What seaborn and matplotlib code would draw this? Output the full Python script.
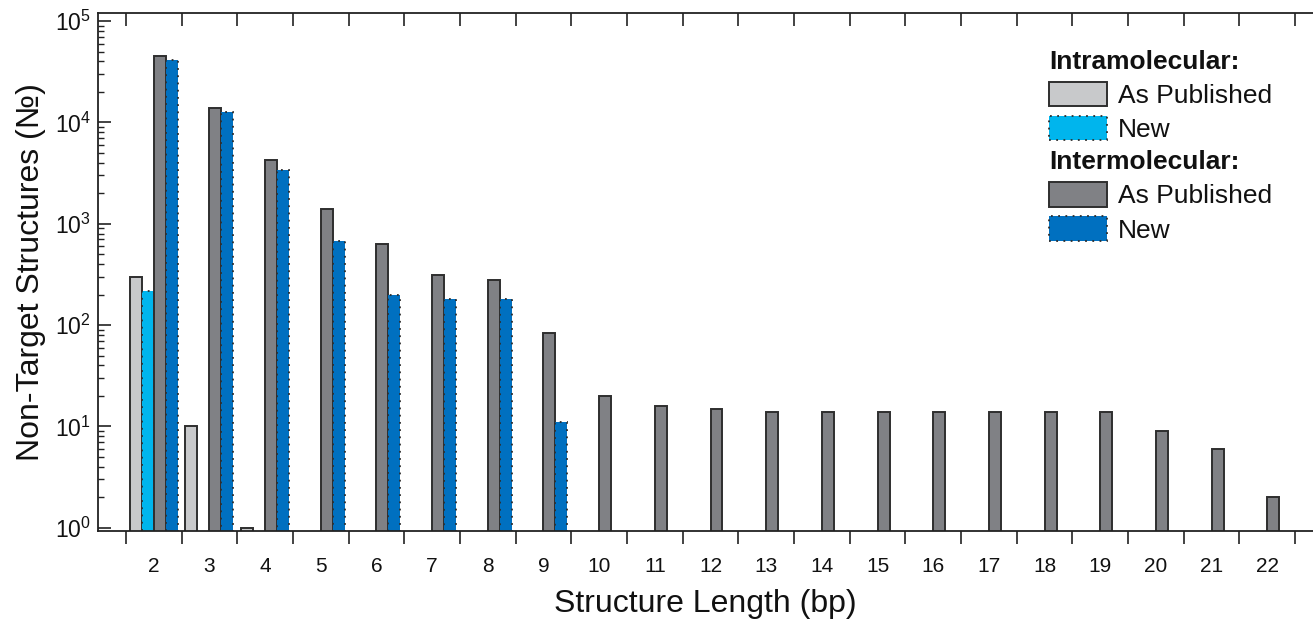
import numpy as np
import pandas as pd
import matplotlib
matplotlib.use("Agg")
import matplotlib.pyplot as plt
from matplotlib.patches import Patch
import seaborn as sns

# ---- data -------------------------------------------------------------
lengths = list(range(2, 23))
intra_published = {2: 300, 3: 10, 4: 1}
intra_new = {2: 215}
inter_published = {2: 45000, 3: 13800, 4: 4300, 5: 1400, 6: 630, 7: 315,
                   8: 280, 9: 84, 10: 20, 11: 16, 12: 15, 13: 14, 14: 14,
                   15: 14, 16: 14, 17: 14, 18: 14, 19: 14, 20: 9, 21: 6,
                   22: 2}
inter_new = {2: 41500, 3: 12700, 4: 3400, 5: 680, 6: 200, 7: 180, 8: 180,
             9: 11}

series_names = ["Intra As Published", "Intra New",
                "Inter As Published", "Inter New"]
series_values = [intra_published, intra_new, inter_published, inter_new]
colors = ["#c8c9cb", "#00b5ed", "#808185", "#0070c0"]
edge_dark = "#2e2e2e"

rows = []
for name, vals in zip(series_names, series_values):
    for k, v in vals.items():
        rows.append({"length": str(k), "count": v, "series": name})
df = pd.DataFrame(rows)

# ---- figure -----------------------------------------------------------
sns.set_theme(style="white")
plt.rcParams["font.family"] = ["Liberation Sans", "DejaVu Sans"]
plt.rcParams["mathtext.fontset"] = "custom"
plt.rcParams["mathtext.rm"] = "Liberation Sans"
plt.rcParams["mathtext.it"] = "Liberation Sans:italic"
plt.rcParams["mathtext.bf"] = "Liberation Sans:bold"
plt.rcParams["text.color"] = "#111111"
plt.rcParams["axes.labelcolor"] = "#111111"
plt.rcParams["xtick.labelcolor"] = "#111111"
plt.rcParams["ytick.labelcolor"] = "#111111"

fig = plt.figure(figsize=(13.13, 6.20), dpi=100)
ax = fig.add_axes([98 / 1313, 1 - 531 / 620, 1 - 98 / 1313, (531 - 13) / 620])

sns.barplot(data=df, x="length", y="count", hue="series",
            order=[str(k) for k in lengths], hue_order=series_names,
            palette=colors, width=0.86, dodge=True, errorbar=None,
            linewidth=1.4, edgecolor=edge_dark, saturation=1, ax=ax,
            legend=False)

# dotted outlines for the "New" series
for i, cont in enumerate(ax.containers):
    for bar in cont:
        if "New" in series_names[i]:
            bar.set_linestyle((0, (1, 3)))
            bar.set_linewidth(1.3)

ax.set_yscale("log")
ax.set_ylim(0.93, 1.2e5)
ax.set_xlim(-1.0, 20.82)

# y axis
ax.yaxis.set_major_locator(matplotlib.ticker.LogLocator(base=10, numticks=10))
ax.yaxis.set_minor_locator(matplotlib.ticker.LogLocator(base=10, subs=np.arange(2, 10), numticks=20))
ax.yaxis.set_minor_formatter(matplotlib.ticker.NullFormatter())
ax.tick_params(axis="y", which="major", direction="in", length=9, width=1.2,
               labelsize=16.5, pad=5, left=True, right=False, color="#222222")
ax.tick_params(axis="y", which="minor", direction="in", length=4, width=1.0,
               left=True, right=False, color="#222222")

# x axis: labels at category centres, ticks at category boundaries
ax.set_xticks(range(len(lengths)))
ax.set_xticklabels([str(k) for k in lengths])
bounds = np.arange(len(lengths) + 1) - 0.5
ax.set_xticks(bounds, minor=True)
ax.tick_params(axis="x", which="major", length=0, labelsize=15, pad=18.5)
ax.tick_params(axis="x", which="minor", direction="out", length=9, width=1.2,
               bottom=True, top=False, color="#222222")

top = ax.secondary_xaxis("top")
top.set_xticks(bounds)
top.set_xticklabels([])
top.tick_params(direction="in", length=9, width=1.2, color="#222222")
top.spines["top"].set_visible(False)

for s in ["left", "bottom", "top"]:
    ax.spines[s].set_color("#222222")
    ax.spines[s].set_linewidth(1.3)
ax.spines["right"].set_visible(False)

ax.set_xlabel("Structure Length (bp)", fontsize=23)
ax.set_ylabel("Non-Target Structures (\u2116)", fontsize=23)
ax.xaxis.set_label_coords(0.5, -0.112)
ax.yaxis.set_label_coords(-0.043, 0.5)

# ---- legends ----------------------------------------------------------
def make_handles(c_pub, c_new):
    return [Patch(facecolor=c_pub, edgecolor=edge_dark, linewidth=1.4),
            Patch(facecolor=c_new, edgecolor=edge_dark, linewidth=1.3,
                  linestyle=(0, (1, 3)))]

legend_kw = dict(frameon=False, fontsize=19, handlelength=2.2,
                 handleheight=1.05, handletextpad=0.4, labelspacing=0.3,
                 borderpad=0, borderaxespad=0, alignment="left",
                 title_fontproperties={"weight": "bold", "size": 19})

leg1 = ax.legend(make_handles(colors[0], colors[1]), ["As Published", "New"],
                 title="Intramolecular:", loc="upper left",
                 bbox_to_anchor=(0.783, 0.929), **legend_kw)
ax.add_artist(leg1)
leg2 = ax.legend(make_handles(colors[2], colors[3]), ["As Published", "New"],
                 title="Intermolecular:", loc="upper left",
                 bbox_to_anchor=(0.783, 0.735), **legend_kw)

fig.savefig("out.png", dpi=100)
